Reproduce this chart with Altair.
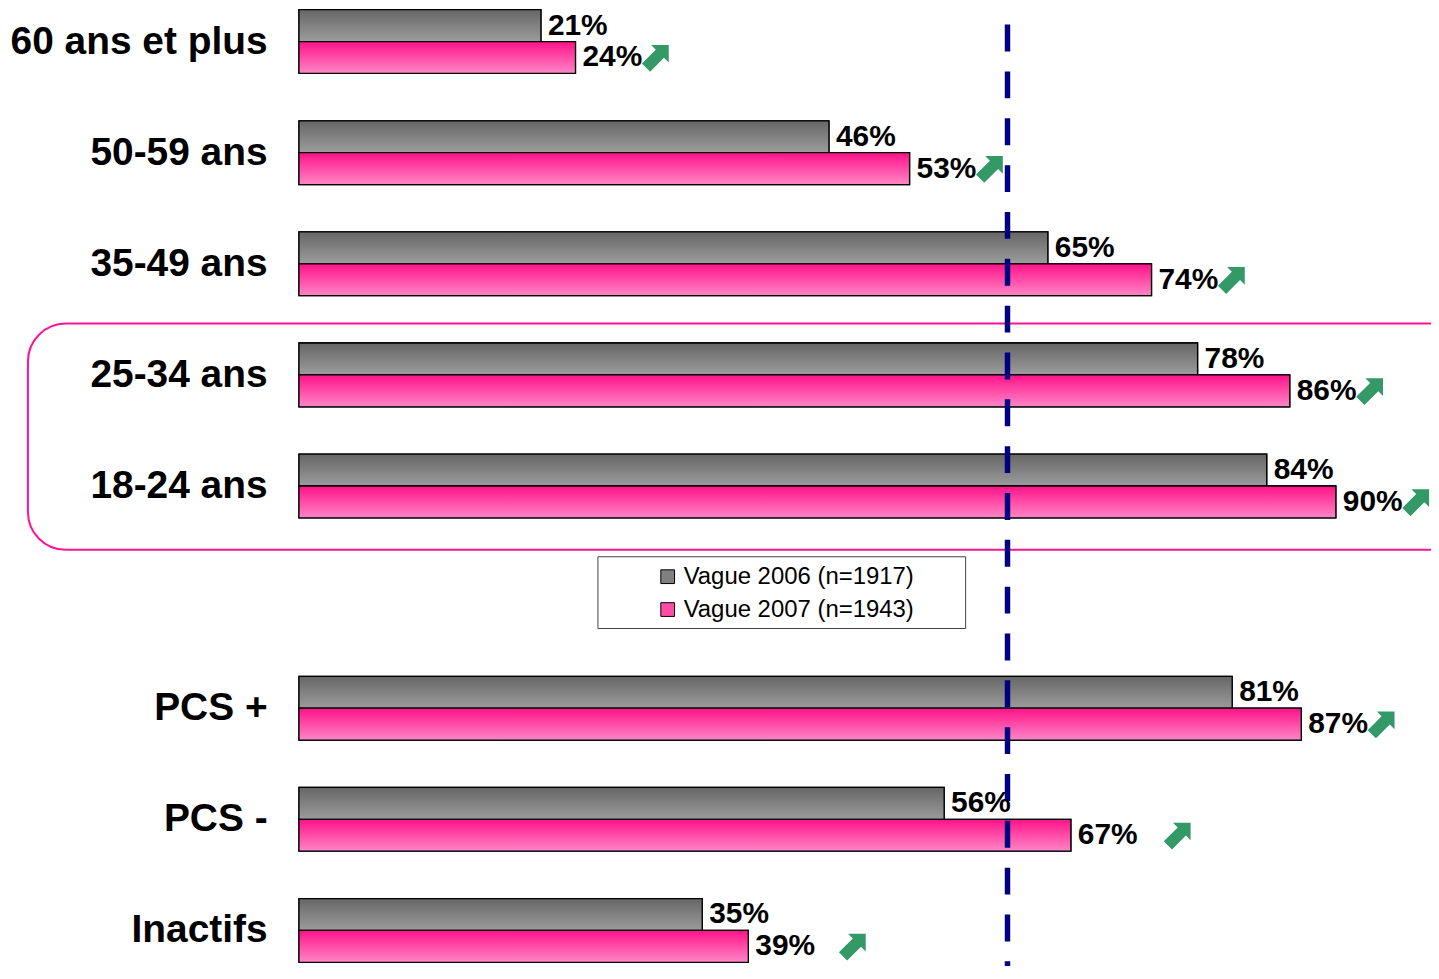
import altair as alt
import pandas as pd

# ---- data ----
categories = ["60 ans et plus", "50-59 ans", "35-49 ans", "25-34 ans", "18-24 ans",
              "PCS +", "PCS -", "Inactifs"]
v2006 = [21, 46, 65, 78, 84, 81, 56, 35]
v2007 = [24, 53, 74, 86, 90, 87, 67, 39]
series = ["Vague 2006 (n=1917)", "Vague 2007 (n=1943)"]
arrow_gap = [7, 7, 7, 7, 7, 7, 9.3, 9.1]   # space between 2007 value and arrow, in % units
reference_value = 61.5
spacer = " "  # empty row that holds the legend
row_order = categories[:5] + [spacer] + categories[5:]

rows = []
for c, a, b in zip(categories, v2006, v2007):
    rows.append({"cat": c, "serie": series[0], "value": a, "label": f"{a}%"})
    rows.append({"cat": c, "serie": series[1], "value": b, "label": f"{b}%"})
df = pd.DataFrame(rows)

df_arrow = pd.DataFrame({
    "cat": categories,
    "serie": [series[1]] * len(categories),
    "ax": [b + g for b, g in zip(v2007, arrow_gap)],
})

W, H = 1133, 956
FONT = "Liberation Sans"

y_enc = alt.Y("cat:N", scale=alt.Scale(domain=row_order, paddingInner=1 - 64 / 111.5, paddingOuter=0),
              axis=alt.Axis(title=None, domain=False, ticks=False, labelFontSize=39,
                            labelFontWeight="bold", labelColor="black", labelFont=FONT,
                            labelPadding=32, grid=False, labelLimit=0))
yoff = alt.YOffset("serie:N", scale=alt.Scale(paddingInner=0, paddingOuter=0))
x_scale = alt.Scale(domain=[0, 98], nice=False)
x_enc = alt.X("value:Q", scale=x_scale, axis=None)

grad_gray = alt.Gradient(gradient="linear", x1=0, x2=0, y1=0, y2=1,
                         stops=[alt.GradientStop(color="#666666", offset=0),
                                alt.GradientStop(color="#9c9c9c", offset=1)])
grad_pink = alt.Gradient(gradient="linear", x1=0, x2=0, y1=0, y2=1,
                         stops=[alt.GradientStop(color="#ff1289", offset=0),
                                alt.GradientStop(color="#ff86c6", offset=1)])

base = alt.Chart(df)

solid = base.mark_bar(stroke="black", strokeWidth=1.3).encode(
    y=y_enc, yOffset=yoff, x=x_enc,
    color=alt.Color("serie:N", scale=alt.Scale(domain=series, range=["#808080", "#ff4da6"]),
                    legend=alt.Legend(title=None, orient="none", legendX=358, legendY=557,
                                      labelFontSize=24, labelFont=FONT, labelColor="black",
                                      symbolType="square", symbolSize=190,
                                      symbolStrokeColor="black", symbolStrokeWidth=1,
                                      labelOffset=4, rowPadding=9, padding=0, labelLimit=0)),
)

g06 = base.transform_filter(alt.datum.serie == series[0]).mark_bar(
    fill=grad_gray, stroke="black", strokeWidth=1.3).encode(y=y_enc, yOffset=yoff, x=x_enc)
g07 = base.transform_filter(alt.datum.serie == series[1]).mark_bar(
    fill=grad_pink, stroke="black", strokeWidth=1.3).encode(y=y_enc, yOffset=yoff, x=x_enc)

labels = base.mark_text(align="left", baseline="middle", dx=7, dy=0, fontSize=30,
                        fontWeight="bold", font=FONT, color="black").encode(
    y=y_enc, yOffset=yoff, x=x_enc, text="label:N")

ARROW = ("M 1 -1 L 1 0.4 L 0.625 0.025 L -0.475 1.125 L -1.125 0.475 "
         "L -0.025 -0.625 L -0.4 -1 Z")
arrows = alt.Chart(df_arrow).mark_point(shape=ARROW, filled=True, fill="#339966",
                                        strokeWidth=0, size=640, opacity=1).encode(
    y=y_enc, yOffset=yoff, x=alt.X("ax:Q", scale=x_scale, axis=None))

one = alt.Chart(pd.DataFrame({"k": [0]}))
ref_line = one.mark_rule(color="#000080", strokeWidth=5.5, strokeDash=[27, 20],
                         strokeDashOffset=32).encode(
    x=alt.X(datum=reference_value, type="quantitative", scale=x_scale, axis=None),
    y=alt.value(0), y2=alt.value(H + 20))

box = one.mark_rect(fillOpacity=0, stroke="#ff1493", strokeWidth=2, cornerRadius=38).encode(
    x=alt.value(-272), x2=alt.value(1200), y=alt.value(315), y2=alt.value(542))

legend_box = one.mark_rect(fill="white", stroke="#444444", strokeWidth=1).encode(
    x=alt.value(300), x2=alt.value(669), y=alt.value(549), y2=alt.value(621))

chart = alt.layer(box, legend_box, solid, g06, g07, ref_line, labels, arrows).properties(
    width=W, height=H,
    background="white",
    autosize=alt.AutoSizeParams(type="none"),
    padding={"left": 292, "top": 0, "right": 3, "bottom": 2},
).configure_view(stroke=None, strokeWidth=0)

chart.save("out.html", embed_options={"renderer": "svg", "actions": False})
